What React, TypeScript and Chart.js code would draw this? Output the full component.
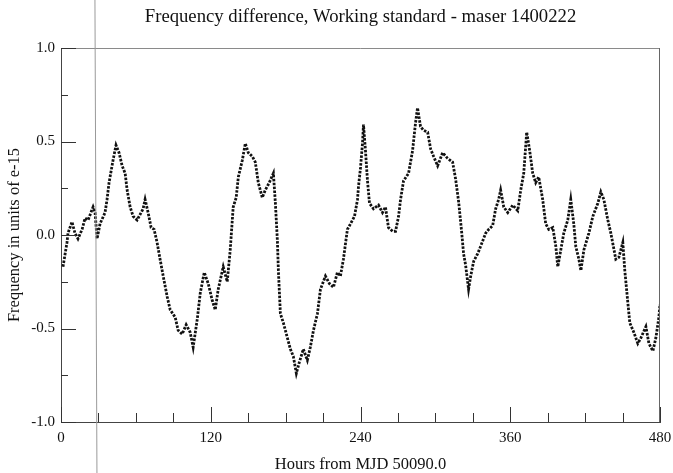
import { useEffect, useRef } from 'react';
import { Chart, registerables } from 'chart.js';

Chart.register(...registerables);

const TITLE = 'Frequency difference, Working standard - maser 1400222';
const X_TITLE = 'Hours from MJD 50090.0';
const Y_TITLE = 'Frequency in units of e-15';

const X_TICKS = [0, 120, 240, 360, 480];
const X_MINOR = [30, 60, 90, 150, 180, 210, 270, 300, 330, 390, 420, 450];
const Y_TICKS = [-1.0, -0.5, 0.0, 0.5, 1.0];
const Y_MINOR = [-0.75, -0.25, 0.25, 0.75];

// faint vertical scan artefact (hours at top and bottom of the page)
const SCAN_LINE_HOURS = [27.2, 28.8];

const HOURS = [
  1.6, 4.8, 5.6, 8.8, 11.2, 13.6, 16.9, 19.3, 21.7, 25.7, 27.3, 28.9, 31.3, 35.3, 36.9, 38.5,
  41.7, 44.1, 46.5, 49.0, 51.4, 53.0, 55.4, 57.8, 61.0, 63.4, 65.8, 67.4, 69.8, 72.2, 74.6, 77.0,
  79.4, 81.9, 85.1, 87.5, 91.5, 93.9, 97.1, 100.3, 103.5, 105.9, 109.2, 111.6, 114.8, 118.0, 121.2, 123.6,
  126.0, 130.0, 133.2, 135.6, 138.0, 140.4, 142.1, 145.3, 147.7, 150.1, 153.3, 155.7, 158.1, 161.3, 163.7, 166.9,
  170.2, 171.8, 173.4, 174.2, 175.8, 178.2, 181.4, 183.8, 186.2, 188.6, 191.0, 194.2, 197.4, 199.8, 202.3, 205.5,
  207.9, 211.9, 215.1, 218.3, 221.5, 223.9, 226.3, 229.5, 232.0, 235.2, 237.6, 238.4, 240.0, 241.6, 242.4,
  244.0, 245.6, 247.2, 250.4, 254.4, 257.6, 260.0, 262.4, 265.7, 268.1, 270.5, 272.1, 274.5, 278.5, 281.7,
  284.1, 285.7, 288.1, 290.5, 293.8, 296.2, 298.6, 301.8, 305.8, 309.8, 313.8, 316.2, 318.6, 321.0, 322.6,
  324.2, 326.6, 328.3, 330.7, 333.9, 336.3, 340.3, 342.7, 345.9, 348.3, 350.7, 352.3, 354.8, 358.0, 362.0,
  366.0, 368.4, 370.8, 373.2, 375.6, 378.0, 380.4, 382.8, 386.0, 388.4, 390.9, 394.1, 396.5, 398.1, 400.5,
  402.9, 406.1, 408.5, 410.9, 412.5, 415.0, 416.6, 419.0, 423.0, 426.2, 430.2, 432.6, 435.0, 438.2, 440.6,
  444.6, 447.0, 450.2, 451.8, 454.2, 455.8, 459.0, 462.2, 464.7, 468.7, 471.1, 474.3, 476.7, 479.1, 480.0,
];

const FREQ_DIFF = [
  -0.17, -0.04, 0.01, 0.07, 0.01, -0.02, 0.03, 0.09, 0.08, 0.15, 0.12, -0.02, 0.06, 0.12, 0.19, 0.28,
  0.40, 0.48, 0.44, 0.37, 0.33, 0.24, 0.15, 0.10, 0.08, 0.11, 0.14, 0.19, 0.12, 0.04, 0.03, -0.04,
  -0.13, -0.22, -0.33, -0.40, -0.44, -0.51, -0.53, -0.48, -0.52, -0.60, -0.45, -0.31, -0.20, -0.26, -0.35, -0.40,
  -0.29, -0.17, -0.25, -0.08, 0.15, 0.20, 0.31, 0.40, 0.49, 0.44, 0.42, 0.39, 0.28, 0.20, 0.24, 0.28,
  0.33, 0.17, -0.03, -0.19, -0.42, -0.47, -0.55, -0.61, -0.65, -0.74, -0.68, -0.61, -0.67, -0.60, -0.51, -0.42,
  -0.29, -0.22, -0.26, -0.28, -0.20, -0.22, -0.13, 0.03, 0.06, 0.10, 0.19, 0.26, 0.36, 0.49, 0.59,
  0.45, 0.29, 0.17, 0.14, 0.16, 0.12, 0.15, 0.04, 0.02, 0.02, 0.10, 0.19, 0.29, 0.33, 0.45,
  0.60, 0.68, 0.58, 0.56, 0.55, 0.46, 0.42, 0.37, 0.44, 0.41, 0.39, 0.30, 0.18, 0.02, -0.10,
  -0.16, -0.29, -0.22, -0.14, -0.10, -0.06, 0.01, 0.03, 0.05, 0.14, 0.19, 0.24, 0.15, 0.12, 0.16,
  0.13, 0.24, 0.33, 0.55, 0.45, 0.33, 0.28, 0.31, 0.19, 0.06, 0.03, 0.04, -0.06, -0.17, -0.08,
  0.01, 0.08, 0.19, 0.06, -0.06, -0.13, -0.19, -0.08, 0.01, 0.10, 0.17, 0.23, 0.19, 0.08, 0.01,
  -0.13, -0.12, -0.04, -0.19, -0.36, -0.47, -0.52, -0.58, -0.55, -0.49, -0.58, -0.62, -0.55, -0.44, -0.37,
];

const SERIF = '"Liberation Serif", "Times New Roman", "DejaVu Serif", serif';

const framePlugin = {
  id: 'frameTicks',
  afterDraw(chart: any) {
    const { ctx, chartArea: a, scales } = chart;
    const x = scales.x;
    const y = scales.y;
    ctx.save();
    // title, centred over the plot area
    ctx.fillStyle = '#111';
    ctx.font = `18.7px ${SERIF}`;
    ctx.textAlign = 'center';
    ctx.textBaseline = 'middle';
    ctx.fillText(TITLE, (a.left + a.right) / 2, 17);
    // top and right frame lines
    ctx.lineWidth = 1;
    ctx.strokeStyle = '#8a8a8a';
    ctx.beginPath();
    ctx.moveTo(a.left, a.top + 0.5);
    ctx.lineTo(a.right - 0.5, a.top + 0.5);
    ctx.stroke();
    ctx.strokeStyle = '#666';
    ctx.beginPath();
    ctx.moveTo(a.right - 0.5, a.top);
    ctx.lineTo(a.right - 0.5, a.bottom);
    ctx.stroke();
    // inward ticks
    ctx.strokeStyle = '#333';
    const vTick = (v: number, len: number) => {
      const px = Math.round(x.getPixelForValue(v)) + 0.5;
      ctx.beginPath();
      ctx.moveTo(px, a.bottom);
      ctx.lineTo(px, a.bottom - len);
      ctx.stroke();
    };
    const hTick = (v: number, len: number) => {
      const py = Math.round(y.getPixelForValue(v)) + 0.5;
      ctx.beginPath();
      ctx.moveTo(a.left, py);
      ctx.lineTo(a.left + len, py);
      ctx.stroke();
    };
    X_TICKS.forEach((v) => vTick(v, 15));
    X_MINOR.forEach((v) => vTick(v, 9));
    Y_TICKS.forEach((v) => hTick(v, 15));
    Y_MINOR.forEach((v) => hTick(v, 7));
    // scan artefact line
    ctx.strokeStyle = '#9a9a9a';
    ctx.lineWidth = 1;
    ctx.beginPath();
    ctx.moveTo(x.getPixelForValue(SCAN_LINE_HOURS[0]), 0);
    ctx.lineTo(x.getPixelForValue(SCAN_LINE_HOURS[1]), chart.height);
    ctx.stroke();
    ctx.restore();
  },
};

export default function App() {
  const ref = useRef<HTMLCanvasElement | null>(null);

  useEffect(() => {
    document.body.style.margin = '0';
    const canvas = ref.current;
    if (!canvas) return;
    const points = HOURS.map((h, i) => ({ x: h, y: FREQ_DIFF[i] }));
    const chart = new Chart(canvas, {
      type: 'line',
      data: {
        datasets: [
          {
            data: points,
            borderColor: '#111',
            borderWidth: 2.8,
            borderDash: [2.5, 1.4],
            borderCapStyle: 'butt',
            pointRadius: 0,
            tension: 0,
            fill: false,
          },
        ],
      },
      options: {
        animation: false,
        responsive: false,
        devicePixelRatio: 1,
        layout: { padding: { left: 0, right: 13, top: 48, bottom: 0 } },
        plugins: {
          legend: { display: false },
          tooltip: { enabled: false },
          title: { display: false },
        },
        scales: {
          x: {
            type: 'linear',
            min: 0,
            max: 480,
            afterBuildTicks: (s: any) => {
              s.ticks = X_TICKS.map((v) => ({ value: v }));
            },
            afterFit: (s: any) => {
              s.height = 51;
              s.paddingLeft = 0;
              s.paddingRight = 0;
            },
            ticks: {
              color: '#111',
              font: { family: SERIF, size: 15 },
              padding: 7,
              maxRotation: 0,
              callback: (v: any) => String(v),
            },
            grid: { display: false, drawTicks: false },
            border: { display: true, color: '#444', width: 1 },
            title: {
              display: true,
              text: X_TITLE,
              color: '#111',
              font: { family: SERIF, size: 16.5, lineHeight: 1 },
              padding: { top: 0, bottom: 0 },
            },
          },
          y: {
            type: 'linear',
            min: -1,
            max: 1,
            afterBuildTicks: (s: any) => {
              s.ticks = Y_TICKS.map((v) => ({ value: v }));
            },
            afterFit: (s: any) => {
              s.width = 61;
              s.paddingTop = 0;
              s.paddingBottom = 0;
            },
            ticks: {
              color: '#111',
              font: { family: SERIF, size: 15 },
              padding: 6,
              callback: (v: any) => Number(v).toFixed(1),
            },
            grid: { display: false, drawTicks: false },
            border: { display: true, color: '#444', width: 1 },
            title: {
              display: true,
              text: Y_TITLE,
              color: '#111',
              font: { family: SERIF, size: 16.5, lineHeight: 1 },
              padding: { top: 6, bottom: 0 },
            },
          },
        },
      },
      plugins: [framePlugin],
    } as any);
    return () => chart.destroy();
  }, []);

  return <canvas ref={ref} width={673} height={473} style={{ display: 'block' }} />;
}
